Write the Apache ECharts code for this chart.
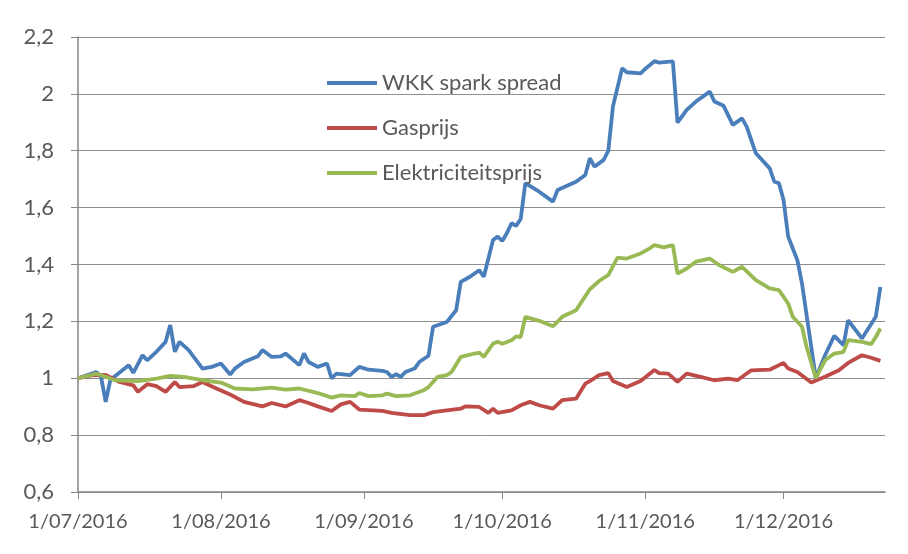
<!DOCTYPE html>
<html>
<head>
<meta charset="utf-8">
<script src="https://cdn.jsdelivr.net/npm/echarts@6/dist/echarts.min.js"></script>
<style>
  html, body { margin: 0; padding: 0; background: #fff; }
  #chart { width: 908px; height: 554px; }
</style>
</head>
<body>
<div id="chart"></div>
<script>
// WKK spark spread (index, 1/07/2016 = 1)
var wkkDates = ["2016-07-01","2016-07-05","2016-07-06","2016-07-07","2016-07-08","2016-07-09","2016-07-12","2016-07-13","2016-07-15","2016-07-16","2016-07-18","2016-07-20","2016-07-21","2016-07-22","2016-07-23","2016-07-25","2016-07-28","2016-07-30","2016-08-01","2016-08-03","2016-08-04","2016-08-06","2016-08-09","2016-08-10","2016-08-12","2016-08-14","2016-08-15","2016-08-18","2016-08-19","2016-08-20","2016-08-22","2016-08-24","2016-08-25","2016-08-26","2016-08-29","2016-08-31","2016-09-02","2016-09-05","2016-09-06","2016-09-07","2016-09-08","2016-09-09","2016-09-10","2016-09-12","2016-09-13","2016-09-15","2016-09-16","2016-09-19","2016-09-21","2016-09-22","2016-09-24","2016-09-26","2016-09-27","2016-09-29","2016-09-30","2016-10-01","2016-10-02","2016-10-03","2016-10-04","2016-10-05","2016-10-06","2016-10-09","2016-10-12","2016-10-13","2016-10-17","2016-10-19","2016-10-20","2016-10-21","2016-10-23","2016-10-24","2016-10-25","2016-10-27","2016-10-28","2016-10-31","2016-11-01","2016-11-03","2016-11-04","2016-11-07","2016-11-08","2016-11-10","2016-11-12","2016-11-15","2016-11-16","2016-11-18","2016-11-20","2016-11-22","2016-11-23","2016-11-25","2016-11-28","2016-11-29","2016-11-30","2016-12-01","2016-12-02","2016-12-04","2016-12-05","2016-12-08","2016-12-10","2016-12-12","2016-12-14","2016-12-15","2016-12-18","2016-12-21","2016-12-22"];
var wkkValues = [1.00,1.022,1.005,0.917,0.993,1.007,1.046,1.019,1.081,1.063,1.093,1.128,1.187,1.093,1.128,1.099,1.034,1.040,1.052,1.013,1.034,1.057,1.077,1.099,1.075,1.077,1.087,1.046,1.087,1.057,1.040,1.052,0.999,1.016,1.011,1.040,1.030,1.026,1.022,1.005,1.014,1.005,1.022,1.034,1.057,1.079,1.181,1.198,1.239,1.339,1.357,1.380,1.357,1.486,1.498,1.483,1.510,1.545,1.536,1.560,1.686,1.656,1.621,1.662,1.691,1.715,1.774,1.744,1.768,1.800,1.955,2.090,2.076,2.072,2.088,2.115,2.110,2.114,1.899,1.944,1.973,2.008,1.973,1.958,1.891,1.914,1.885,1.791,1.738,1.691,1.686,1.627,1.498,1.415,1.333,1.00,1.081,1.149,1.116,1.204,1.140,1.216,1.321];

// Gasprijs
var gasDates = ["2016-07-01","2016-07-04","2016-07-07","2016-07-10","2016-07-13","2016-07-14","2016-07-16","2016-07-18","2016-07-20","2016-07-22","2016-07-23","2016-07-26","2016-07-28","2016-07-31","2016-08-03","2016-08-06","2016-08-10","2016-08-12","2016-08-15","2016-08-18","2016-08-20","2016-08-22","2016-08-25","2016-08-27","2016-08-29","2016-08-31","2016-09-05","2016-09-07","2016-09-11","2016-09-14","2016-09-16","2016-09-19","2016-09-22","2016-09-23","2016-09-26","2016-09-28","2016-09-29","2016-09-30","2016-10-03","2016-10-05","2016-10-07","2016-10-09","2016-10-12","2016-10-14","2016-10-17","2016-10-19","2016-10-20","2016-10-22","2016-10-24","2016-10-25","2016-10-28","2016-10-31","2016-11-03","2016-11-04","2016-11-06","2016-11-08","2016-11-10","2016-11-13","2016-11-16","2016-11-19","2016-11-21","2016-11-24","2016-11-28","2016-12-01","2016-12-02","2016-12-04","2016-12-07","2016-12-10","2016-12-13","2016-12-15","2016-12-18","2016-12-20","2016-12-22"];
var gasValues = [1.00,1.010,1.012,0.987,0.975,0.952,0.979,0.972,0.952,0.987,0.969,0.972,0.987,0.964,0.943,0.917,0.901,0.913,0.901,0.923,0.913,0.901,0.885,0.908,0.917,0.890,0.885,0.878,0.870,0.870,0.881,0.887,0.893,0.901,0.899,0.878,0.893,0.878,0.887,0.905,0.917,0.905,0.893,0.923,0.928,0.981,0.990,1.011,1.018,0.990,0.969,0.990,1.029,1.018,1.016,0.987,1.016,1.005,0.993,0.999,0.993,1.028,1.030,1.054,1.034,1.022,0.985,1.005,1.028,1.054,1.081,1.072,1.061];

// Elektriciteitsprijs
var elekDates = ["2016-07-01","2016-07-05","2016-07-07","2016-07-09","2016-07-14","2016-07-18","2016-07-21","2016-07-24","2016-07-28","2016-08-01","2016-08-04","2016-08-08","2016-08-12","2016-08-15","2016-08-18","2016-08-22","2016-08-25","2016-08-27","2016-08-30","2016-08-31","2016-09-02","2016-09-05","2016-09-06","2016-09-08","2016-09-11","2016-09-14","2016-09-15","2016-09-17","2016-09-19","2016-09-20","2016-09-22","2016-09-25","2016-09-26","2016-09-27","2016-09-29","2016-09-30","2016-10-01","2016-10-03","2016-10-04","2016-10-05","2016-10-06","2016-10-09","2016-10-12","2016-10-14","2016-10-17","2016-10-20","2016-10-22","2016-10-24","2016-10-26","2016-10-28","2016-10-31","2016-11-02","2016-11-03","2016-11-05","2016-11-07","2016-11-08","2016-11-10","2016-11-12","2016-11-15","2016-11-17","2016-11-20","2016-11-22","2016-11-25","2016-11-28","2016-11-30","2016-12-02","2016-12-03","2016-12-05","2016-12-06","2016-12-08","2016-12-10","2016-12-12","2016-12-14","2016-12-15","2016-12-18","2016-12-20","2016-12-21","2016-12-22"];
var elekValues = [1.00,1.016,1.005,0.993,0.990,0.999,1.008,1.005,0.993,0.985,0.964,0.961,0.967,0.960,0.964,0.948,0.932,0.940,0.937,0.948,0.937,0.940,0.946,0.937,0.940,0.958,0.969,1.005,1.011,1.022,1.075,1.087,1.090,1.075,1.122,1.128,1.121,1.134,1.147,1.145,1.216,1.202,1.183,1.216,1.239,1.313,1.342,1.363,1.424,1.421,1.439,1.457,1.468,1.460,1.468,1.368,1.386,1.410,1.421,1.398,1.374,1.392,1.345,1.316,1.310,1.263,1.216,1.181,1.110,1.00,1.063,1.087,1.093,1.134,1.128,1.120,1.145,1.175];

var seriesNames = ["WKK spark spread", "Gasprijs", "Elektriciteitsprijs"];
var seriesColors = ["#4A7EBB", "#BE4B48", "#98B954"];
var yTicks = [0.6, 0.8, 1.0, 1.2, 1.4, 1.6, 1.8, 2.0, 2.2];

function pairs(dates, values) {
    return dates.map(function(d, i) { return [d, values[i]]; });
}

function fmtDate(v) {
    var d = new Date(v);
    var m = d.getMonth() + 1;
    return d.getDate() + "/" + (m < 10 ? "0" + m : m) + "/" + d.getFullYear();
}

var font = "Lato, 'Open Sans', sans-serif";
var textColor = "#595959";
var axisColor = "#868686";

var chart = echarts.init(document.getElementById("chart"));
var option = {
    backgroundColor: "#ffffff",
    animation: false,
    color: seriesColors,
    grid: { left: 78, right: 23, top: 37, bottom: 62 },
    legend: {
        orient: "vertical",
        left: 322,
        top: 67,
        itemWidth: 50,
        itemHeight: 4,
        itemGap: 23,
        icon: "rect",
        data: seriesNames,
        textStyle: { fontFamily: font, fontSize: 22, color: textColor, lineHeight: 22 }
    },
    xAxis: {
        type: "time",
        min: "2016-07-01",
        max: "2016-12-23",
        splitNumber: 6,
        axisLine: { show: true, lineStyle: { color: axisColor, width: 1.5 } },
        axisTick: { show: true, length: 7, lineStyle: { color: axisColor } },
        splitLine: { show: false },
        axisLabel: {
            fontFamily: font, fontSize: 20, color: textColor, margin: 20,
            showMinLabel: true, showMaxLabel: false, hideOverlap: false,
            formatter: fmtDate
        }
    },
    yAxis: {
        type: "value",
        min: yTicks[0],
        max: yTicks[yTicks.length - 1],
        interval: 0.2,
        axisLine: { show: true, lineStyle: { color: axisColor, width: 1.5 } },
        axisTick: { show: true, length: 7, lineStyle: { color: axisColor } },
        splitLine: { show: true, lineStyle: { color: "#8f8f8f", width: 1 } },
        axisLabel: {
            fontFamily: font, fontSize: 22, color: textColor, margin: 24,
            formatter: function(v) { return String(Math.round(v * 10) / 10).replace(".", ","); }
        }
    },
    series: [
        { name: seriesNames[0], type: "line", showSymbol: false, symbol: "none", lineStyle: { width: 3.8 }, data: pairs(wkkDates, wkkValues), z: 2 },
        { name: seriesNames[1], type: "line", showSymbol: false, symbol: "none", lineStyle: { width: 3.8 }, data: pairs(gasDates, gasValues), z: 3 },
        { name: seriesNames[2], type: "line", showSymbol: false, symbol: "none", lineStyle: { width: 3.8 }, data: pairs(elekDates, elekValues), z: 4 }
    ]
};
chart.setOption(option);
</script>
</body>
</html>
